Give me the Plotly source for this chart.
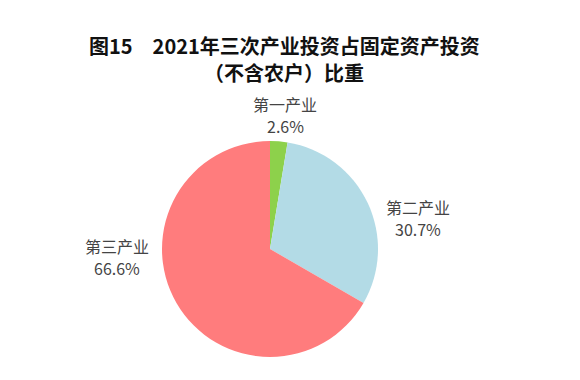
import plotly.graph_objects as go

categories = ["第一产业", "第二产业", "第三产业"]
values = [2.6, 30.7, 66.6]
colors = ["#8DD14B", "#B3DBE6", "#FF7C7D"]
title_lines = ["图15　2021年三次产业投资占固定资产投资", "（不含农户）比重"]

W, H = 580, 380
OFF = 8  # page body margin offset
# label centres in reference pixels
label_px = [(285, 115), (418, 218), (117, 257)]
title_px = [(284, 46), (284, 73)]

cx, cy, r = 270 - OFF, 249 - OFF, 108

fig = go.Figure(go.Pie(
    labels=categories, values=values, sort=False, direction="clockwise", rotation=0,
    marker=dict(colors=colors, line=dict(width=0)),
    textinfo="none", hoverinfo="label+percent", showlegend=False,
    domain=dict(x=[(cx - r) / W, (cx + r) / W], y=[1 - (cy + r) / H, 1 - (cy - r) / H]),
))

font = dict(family="Noto Sans CJK SC", size=16, color="#444444")
tfont = dict(family="Noto Sans CJK SC", size=20, color="#111111")
annotations = []
for (px, py), txt in zip(title_px, title_lines):
    annotations.append(dict(x=(px - OFF) / W, y=1 - (py - OFF) / H, xref="paper", yref="paper",
                            xanchor="center", yanchor="middle", showarrow=False, borderpad=0,
                            text="<b>" + txt + "</b>", font=tfont))
for (px, py), c, v in zip(label_px, categories, values):
    for txt, dy in ((c, -11), (f"{v}%", 11)):
        annotations.append(dict(x=(px - OFF) / W, y=1 - (py + dy - OFF) / H,
                                xref="paper", yref="paper",
                                xanchor="center", yanchor="middle", showarrow=False,
                                text=txt, font=font))

fig.update_layout(
    width=W, height=H, margin=dict(l=0, r=0, t=0, b=0),
    paper_bgcolor="white", plot_bgcolor="white",
    annotations=annotations,
)
fig.write_html("out.html")
